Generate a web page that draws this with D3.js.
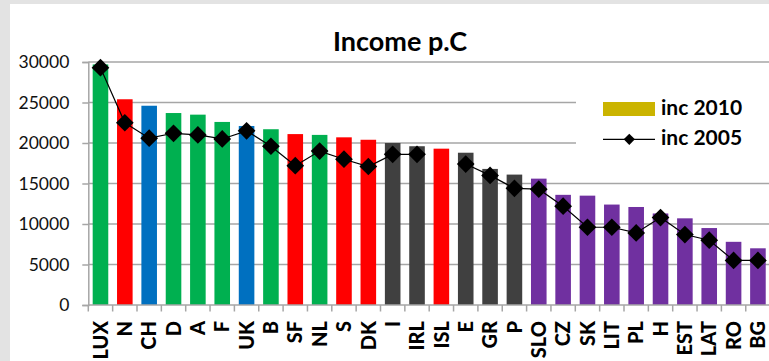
<!DOCTYPE html>
<html>
<head>
<meta charset="utf-8">
<script src="https://cdn.jsdelivr.net/npm/d3@7/dist/d3.min.js"></script>
<style>
  html, body { margin: 0; padding: 0; background: #e3e3e3; }
  svg { display: block; }
  text { font-family: Lato, "Open Sans", sans-serif; }
</style>
</head>
<body>
<svg id="chart" width="769" height="361"></svg>
<script>
// Income per capita by country, 2010 (bars) and 2005 (line)
const countries = ["LUX","N","CH","D","A","F","UK","B","SF","NL","S","DK","I","IRL","ISL","E","GR","P","SLO","CZ","SK","LIT","PL","H","EST","LAT","RO","BG"];
const inc2010 = [29700,25400,24600,23700,23500,22600,22100,21700,21100,21000,20700,20400,20000,19600,19300,18800,16800,16100,15600,13600,13500,12400,12100,11300,10700,9500,7800,7000];
const inc2005 = [29300,22500,20600,21200,21000,20500,21500,19600,17200,19000,18000,17100,18600,18600,null,17400,16000,14400,14300,12200,9600,9600,8900,10800,8700,8000,5500,5500];
const groups = ["Continental","Nordic","Other","Continental","Continental","Continental","Other","Continental","Nordic","Continental","Nordic","Nordic","Southern","Southern","Nordic","Southern","Southern","Southern","Eastern","Eastern","Eastern","Eastern","Eastern","Eastern","Eastern","Eastern","Eastern","Eastern"];
const groupNames = ["Continental","Nordic","Other","Southern","Eastern"];
const groupColors = ["#00b050","#ff0000","#0070c0","#404040","#7030a0"];
const yTicks = [0,5000,10000,15000,20000,25000,30000];
const seriesNames = ["inc 2010","inc 2005"];

const svg = d3.select("#chart");

// white chart panel
svg.append("rect").attr("x",10).attr("y",4).attr("width",770).attr("height",370).attr("fill","#ffffff");

const x = d3.scaleBand().domain(countries).range([88.3, 770.1]).paddingInner(0.36).paddingOuter(0.18);
const y = d3.scaleLinear().domain([0,30000]).range([305,62]);
const color = d3.scaleOrdinal().domain(groupNames).range(groupColors);

// gridlines
svg.append("g").selectAll("line").data(yTicks.slice(1)).join("line")
  .attr("x1",88.3).attr("x2",769).attr("y1",d=>y(d)).attr("y2",d=>y(d))
  .attr("stroke","#a6a6a6").attr("stroke-width",1.5);

// y axis
const yAxis = svg.append("g").attr("transform","translate(88.3,0)")
  .call(d3.axisLeft(y).tickValues(yTicks).tickFormat(d3.format("d")).tickSize(6).tickPadding(13));
yAxis.select(".domain").attr("stroke","#a6a6a6").attr("stroke-width",1.5);
yAxis.selectAll(".tick line").attr("stroke","#a6a6a6").attr("stroke-width",1.5);
yAxis.selectAll(".tick text").attr("font-size","17.5px").attr("fill","#111").attr("font-family","Lato, sans-serif");

// bars
svg.append("g").selectAll("rect").data(countries).join("rect")
  .attr("x",d=>x(d)).attr("width",x.bandwidth())
  .attr("y",(d,i)=>y(inc2010[i])).attr("height",(d,i)=>y(0)-y(inc2010[i]))
  .attr("fill",(d,i)=>color(groups[i]));

// x axis baseline and ticks at band boundaries
const step = x.step();
const x0 = x.range()[0];
svg.append("line").attr("x1",x0).attr("x2",769).attr("y1",y(0)).attr("y2",y(0))
  .attr("stroke","#a6a6a6").attr("stroke-width",1.5);
svg.append("g").selectAll("line").data(d3.range(countries.length+1)).join("line")
  .attr("x1",i=>x0+i*step).attr("x2",i=>x0+i*step).attr("y1",y(0)).attr("y2",y(0)+6.5)
  .attr("stroke","#a6a6a6").attr("stroke-width",1.5);

// category labels
svg.append("g").selectAll("text").data(countries).join("text")
  .attr("transform",d=>`translate(${x(d)+x.bandwidth()/2},321) rotate(-90)`)
  .attr("text-anchor","end").attr("dy","0.36em")
  .attr("font-size","20px").attr("font-weight",900).attr("fill","#000")
  .text(d=>d);

// 2005 line with diamond markers
const pts = countries.map((c,i)=>({c, v: inc2005[i]}));
const line = d3.line().defined(d=>d.v!==null).x(d=>x(d.c)+x.bandwidth()/2).y(d=>y(d.v));
svg.append("path").datum(pts).attr("d",line).attr("fill","none").attr("stroke","#000").attr("stroke-width",1.2);
const diamond = d3.symbol().type(d3.symbolDiamond2).size(200);
svg.append("g").selectAll("path").data(pts.filter(d=>d.v!==null)).join("path")
  .attr("transform",d=>`translate(${x(d.c)+x.bandwidth()/2},${y(d.v)})`)
  .attr("d",diamond).attr("fill","#000");

// title
svg.append("text").attr("x",400).attr("y",51).attr("text-anchor","middle")
  .attr("font-size","27px").attr("font-weight",700).attr("fill","#000").text("Income p.C");

// legend
const lg = svg.append("g");
lg.append("rect").attr("x",576).attr("y",72).attr("width",200).attr("height",92).attr("fill","#fff");
lg.append("rect").attr("x",603).attr("y",102).attr("width",52).attr("height",14).attr("fill","#cbb400");
lg.append("line").attr("x1",603).attr("x2",655).attr("y1",139.3).attr("y2",139.3).attr("stroke","#000").attr("stroke-width",1.2);
lg.append("path").attr("transform","translate(629.3,139.3)").attr("d",d3.symbol().type(d3.symbolDiamond2).size(80)()).attr("fill","#000");
lg.selectAll("text.lbl").data(seriesNames).join("text").attr("class","lbl")
  .attr("x",661).attr("y",(d,i)=>115+i*30)
  .attr("font-size","21px").attr("font-weight",700).attr("fill","#000").text(d=>d);
</script>
</body>
</html>
